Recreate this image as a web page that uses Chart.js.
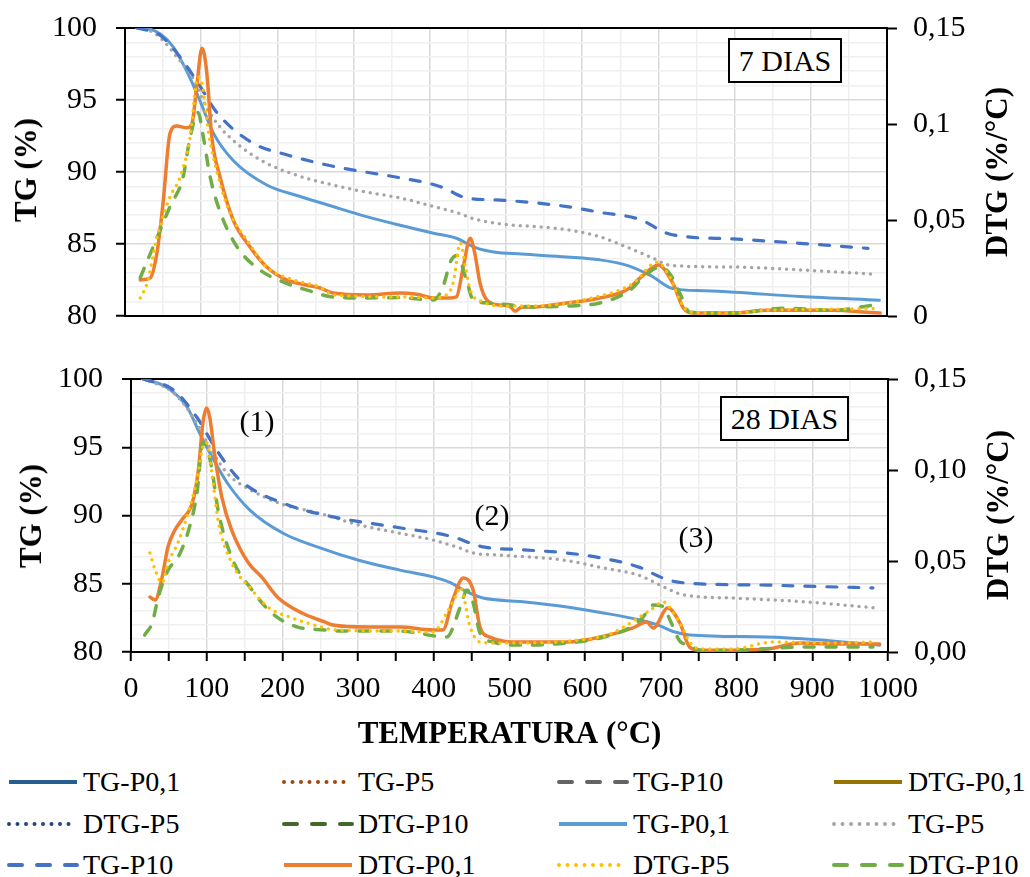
<!DOCTYPE html>
<html>
<head>
<meta charset="utf-8">
<script src="https://cdn.jsdelivr.net/npm/chart.js@4.4.0/dist/chart.umd.min.js"></script>
<style>
body { margin: 0; background: #fff; }
#wrap { position: relative; width: 1030px; height: 877px; font-family: "Liberation Serif", "Times New Roman", serif; color: #000; }
#chart7 { position: absolute; left: 0; top: 0; }
#chart28 { position: absolute; left: 0; top: 340px; }
.tag { position: absolute; border: 2px solid #000; background: #fff; font-size: 30px; text-align: center; box-sizing: border-box; line-height: 41px; }
.note { position: absolute; font-size: 30px; transform: translate(-50%, -50%); }
.ytitle { position: absolute; font-size: 31px; font-weight: bold; white-space: nowrap; transform: translate(-50%, -50%) rotate(-90deg); }
.leg { position: absolute; height: 40px; font-size: 28px; display: flex; align-items: center; white-space: nowrap; transform: translateY(-50%); }
.leg canvas { margin-right: 4px; }
</style>
</head>
<body>
<div id="wrap">
  <canvas id="chart7" width="1030" height="335"></canvas>
  <canvas id="chart28" width="1030" height="420"></canvas>

  <div class="ytitle" style="left:26px; top:170px;">TG (%)</div>
  <div class="ytitle" style="left:997px; top:172px;">DTG (%/°C)</div>
  <div class="ytitle" style="left:31px; top:516px;">TG (%)</div>
  <div class="ytitle" style="left:998px; top:515px;">DTG (%/°C)</div>

  <div class="tag" style="left:728px; top:38px; width:114px; height:45px;">7 DIAS</div>
  <div class="tag" style="left:720px; top:396px; width:129px; height:45px;">28 DIAS</div>

  <div class="note" style="left:257px; top:421px;">(1)</div>
  <div class="note" style="left:492px; top:515px;">(2)</div>
  <div class="note" style="left:696px; top:537px;">(3)</div>

  <div id="legend"></div>
</div>

<script>
const SERIF = '"Liberation Serif", "Times New Roman", serif';

// ---- 7 dias : [temperature, value] ----
const tg01_7 = [[16,100],[30,99.95],[46,99.6],[63,98.7],[81,97.0],[98,95.0],[116,92.7],[142,90.8],[186,89.1],[230,88.3],[273,87.6],[317,86.9],[361,86.3],[405,85.75],[435,85.4],[460,84.75],[484,84.45],[520,84.3],[580,84.1],[623,83.9],[660,83.5],[690,82.8],[719,81.9],[760,81.75],[800,81.65],[886,81.35],[990,81.1]];
const tg5_7 = [[16,100],[40,99.6],[68,98.0],[89,96.5],[107,94.5],[125,93.1],[151,91.8],[186,90.6],[230,89.7],[273,89.1],[317,88.6],[361,88.2],[405,87.6],[440,87.1],[455,86.8],[492,86.4],[540,86.2],[580,86.0],[623,85.5],[658,84.8],[689,84.1],[719,83.5],[798,83.4],[886,83.2],[985,82.9]];
const tg10_7 = [[16,100],[46,99.5],[72,98.0],[98,96.0],[121,94.1],[168,92.0],[212,91.2],[273,90.4],[361,89.6],[400,89.2],[418,88.9],[448,88.2],[492,88.05],[580,87.6],[623,87.2],[676,86.7],[711,85.75],[737,85.5],[798,85.35],[886,85.05],[975,84.7]];
const dtg01_7 = [[20,0.0188],[33,0.0198],[42,0.033],[50,0.059],[59,0.095],[68,0.099],[81,0.098],[88,0.1005],[94,0.119],[101,0.1395],[107,0.128],[114,0.093],[125,0.072],[142,0.050],[164,0.036],[186,0.0255],[212,0.0188],[239,0.016],[256,0.0146],[273,0.012],[317,0.011],[361,0.012],[383,0.0113],[405,0.0094],[427,0.0094],[435,0.010],[444,0.0257],[453,0.0405],[459,0.0328],[466,0.017],[475,0.0083],[492,0.0057],[505,0.005],[512,0.0025],[520,0.0045],[536,0.0047],[580,0.0068],[623,0.0094],[658,0.0135],[676,0.0198],[700,0.0266],[719,0.017],[733,0.004],[746,0.0015],[798,0.0015],[842,0.003],[930,0.003],[973,0.002],[991,0.0015]];
const dtg5_7 = [[20,0.0094],[29,0.017],[42,0.041],[59,0.062],[72,0.072],[85,0.092],[96,0.1245],[102,0.119],[109,0.097],[121,0.0745],[138,0.0536],[160,0.0396],[186,0.0255],[221,0.0188],[256,0.015],[273,0.011],[361,0.0099],[405,0.0094],[422,0.011],[431,0.0177],[440,0.038],[447,0.025],[453,0.0135],[470,0.0073],[492,0.0052],[536,0.0052],[623,0.0104],[667,0.017],[698,0.028],[715,0.0203],[728,0.0083],[741,0.002],[798,0.0015],[842,0.003],[930,0.0035],[987,0.004]];
const dtg10_7 = [[20,0.020],[37,0.036],[59,0.057],[76,0.072],[85,0.092],[96,0.106],[102,0.095],[112,0.072],[125,0.054],[147,0.036],[177,0.024],[212,0.017],[239,0.0135],[273,0.0099],[317,0.0094],[361,0.0096],[405,0.0083],[417,0.015],[428,0.029],[436,0.0315],[448,0.0188],[457,0.0083],[475,0.0068],[501,0.006],[536,0.0047],[580,0.0052],[623,0.0068],[663,0.0135],[680,0.0203],[702,0.0255],[715,0.022],[728,0.012],[741,0.002],[798,0.0015],[864,0.004],[930,0.003],[982,0.0057]];

// ---- 28 dias ----
const tg01_28 = [[16,100],[47,99.4],[74,97.95],[91,96.0],[104,94.6],[127,92.4],[157,90.4],[201,88.7],[246,87.7],[302,86.7],[355,86.0],[399,85.5],[421,85.1],[444,84.4],[465,83.95],[514,83.7],[576,83.3],[620,82.9],[672,82.35],[695,82.0],[716,81.5],[738,81.25],[840,81.1],[906,80.9],[989,80.5]];
const tg5_28 = [[16,100],[56,99.0],[82,97.2],[104,95.0],[127,93.1],[157,91.9],[201,90.8],[246,90.2],[302,89.3],[355,88.7],[399,88.2],[435,87.6],[452,87.25],[487,87.1],[576,86.7],[620,86.2],[672,85.6],[699,84.9],[729,84.2],[795,83.95],[884,83.7],[989,83.2]];
const tg10_28 = [[16,100],[56,99.2],[87,97.2],[113,94.8],[144,92.6],[201,90.9],[267,89.9],[355,89.1],[421,88.5],[465,87.7],[514,87.5],[576,87.25],[620,86.9],[672,86.2],[695,85.6],[708,85.3],[734,85.05],[840,84.9],[906,84.8],[980,84.7]];
const dtg01_28 = [[25,0.0302],[32,0.0286],[41,0.041],[49,0.058],[58,0.067],[67,0.0725],[81,0.082],[89,0.100],[95,0.126],[100,0.134],[104,0.129],[111,0.107],[120,0.085],[133,0.067],[155,0.049],[173,0.041],[194,0.030],[226,0.0214],[256,0.0165],[267,0.0148],[312,0.0137],[355,0.0137],[399,0.0121],[412,0.0121],[425,0.0286],[439,0.0407],[452,0.034],[461,0.0137],[474,0.0082],[514,0.0055],[576,0.0055],[620,0.0082],[663,0.0132],[681,0.0165],[690,0.0132],[709,0.0242],[725,0.016],[738,0.0027],[752,0.001],[795,0.001],[840,0.0016],[884,0.0049],[928,0.0044],[989,0.0044]];
const dtg5_28 = [[25,0.0544],[32,0.045],[41,0.038],[49,0.049],[62,0.060],[75,0.076],[87,0.0945],[95,0.113],[100,0.115],[107,0.098],[115,0.0725],[133,0.049],[160,0.034],[181,0.0247],[213,0.0187],[256,0.0132],[267,0.0121],[355,0.0115],[399,0.0110],[417,0.0214],[431,0.0324],[435,0.0357],[448,0.0137],[461,0.0055],[487,0.0049],[620,0.0082],[686,0.023],[703,0.0275],[716,0.022],[728,0.0137],[738,0.0055],[752,0.0016],[795,0.0016],[848,0.0055],[928,0.0049],[980,0.0055]];
const dtg10_28 = [[18,0.0093],[28,0.016],[36,0.030],[49,0.045],[62,0.052],[75,0.0654],[87,0.087],[95,0.115],[100,0.113],[107,0.100],[115,0.078],[133,0.052],[160,0.034],[186,0.0214],[220,0.0137],[256,0.0121],[267,0.0115],[355,0.0115],[417,0.0082],[435,0.0247],[444,0.034],[452,0.027],[461,0.0104],[478,0.0055],[514,0.0038],[576,0.0049],[620,0.0077],[663,0.0143],[676,0.019],[690,0.0258],[703,0.025],[712,0.0176],[725,0.006],[736,0.004],[752,0.001],[795,0.001],[884,0.0027],[928,0.0027],[980,0.0027]];

// tick labels of the DTG axis (bottom to top)
const dtgTicks7 = ['0', '0,05', '0,1', '0,15'];
const dtgTicks28 = ['0,00', '0,05', '0,10', '0,15'];

// legend texts (12 entries, 3 rows of 4)
const legendNames = ['TG-P0,1', 'TG-P5', 'TG-P10', 'DTG-P0,1', 'DTG-P5', 'DTG-P10',
                     'TG-P0,1', 'TG-P5', 'TG-P10', 'DTG-P0,1', 'DTG-P5', 'DTG-P10'];
const legendColors = ['#255E91', '#9E480E', '#636363', '#997300', '#264478', '#43682B',
                      '#5B9BD5', '#A5A5A5', '#4472C4', '#ED7D31', '#FFC000', '#70AD47'];
const legendStyles = ['solid', 'dot', 'dash', 'solid', 'dot', 'dash',
                      'solid', 'dot', 'dash', 'solid', 'dot', 'dash'];

const toXY = arr => arr.map(p => ({ x: p[0], y: p[1] }));

function line(label, data, color, style, axis, width, order) {
    const ds = {
        label: label,
        data: toXY(data),
        borderColor: color,
        backgroundColor: color,
        borderWidth: width,
        pointRadius: 0,
        fill: false,
        cubicInterpolationMode: 'monotone',
        yAxisID: axis,
        order: order,
        borderCapStyle: 'round',
        borderJoinStyle: 'round'
    };
    if (style === 'dot') ds.borderDash = [0, 7];
    if (style === 'dash') ds.borderDash = [10, 12];
    return ds;
}

function buildDatasets(tg01, tg5, tg10, dtg01, dtg5, dtg10) {
    return [
        line('TG-P0,1', tg01, '#5B9BD5', 'solid', 'y', 3, 5),
        line('TG-P5', tg5, '#A5A5A5', 'dot', 'y', 3.5, 4),
        line('TG-P10', tg10, '#4472C4', 'dash', 'y', 3.2, 3),
        line('DTG-P0,1', dtg01, '#ED7D31', 'solid', 'y2', 3.5, 2),
        line('DTG-P5', dtg5, '#FFC000', 'dot', 'y2', 3.5, 0),
        line('DTG-P10', dtg10, '#70AD47', 'dash', 'y2', 3.5, 1)
    ];
}

// keep the label overflow of the y axes from shrinking the plot area
function fixWidth(w) {
    return s => {
        s.width = w;
        s.paddingTop = 0;
        s.paddingBottom = 0;
    };
}

function buildOptions(bottom, dtgLabels) {
    const tickFont = { family: SERIF, size: 30 };
    return {
        responsive: false,
        animation: false,
        plugins: { legend: { display: false }, tooltip: { enabled: false } },
        layout: { padding: { top: bottom ? 39 : 28, left: 0, right: 0, bottom: 0 } },
        scales: {
            x: {
                type: 'linear', min: 0, max: 1000,
                ticks: {
                    stepSize: 50, display: bottom, autoSkip: false, maxRotation: 0,
                    font: tickFont, color: '#000', padding: 10,
                    callback: v => (v % 100 === 0 ? String(v) : '')
                },
                grid: {
                    drawTicks: bottom, tickLength: 9, tickWidth: 2, tickColor: '#000',
                    color: c => {
                        const v = c.tick ? c.tick.value : 0;
                        if (v === 0 || v === 1000) return 'rgba(0,0,0,0)';
                        return v % 100 === 0 ? '#d9d9d9' : '#f0f0f0';
                    },
                    lineWidth: 1.5
                },
                border: { color: '#000', width: 2 },
                title: {
                    display: bottom, text: 'TEMPERATURA (°C)', color: '#000',
                    font: { family: SERIF, size: 31, weight: 'bold' },
                    padding: { top: 0, bottom: 6 }
                },
                afterFit: s => { s.height = bottom ? 108 : 19; }
            },
            y: {
                position: 'left', min: 80, max: 100,
                ticks: {
                    stepSize: 1, autoSkip: false, font: tickFont, color: '#000', padding: 19,
                    callback: v => (v % 5 === 0 ? String(v) : '')
                },
                grid: {
                    tickLength: 9, tickWidth: 2,
                    tickColor: c => (c.tick && c.tick.value % 5 === 0 ? '#000' : 'rgba(0,0,0,0)'),
                    color: c => {
                        const v = c.tick ? c.tick.value : 0;
                        if (v === 100) return '#000';
                        if (v === 80) return 'rgba(0,0,0,0)';
                        return v % 5 === 0 ? '#d9d9d9' : '#f0f0f0';
                    },
                    lineWidth: c => (c.tick && c.tick.value === 100 ? 2 : 1.5)
                },
                border: { color: '#000', width: 2 },
                afterFit: fixWidth(bottom ? 131 : 125)
            },
            y2: {
                position: 'right', min: 0, max: 0.15,
                ticks: {
                    stepSize: 0.05, autoSkip: false, font: tickFont, color: '#000', padding: 16,
                    callback: (v, i) => dtgLabels[i]
                },
                grid: { drawOnChartArea: false, tickLength: 10, tickWidth: 2, tickColor: '#000' },
                border: { color: '#000', width: 2 },
                afterFit: fixWidth(bottom ? 142 : 143)
            }
        }
    };
}

new Chart(document.querySelector('#chart7'), {
    type: 'line',
    data: { datasets: buildDatasets(tg01_7, tg5_7, tg10_7, dtg01_7, dtg5_7, dtg10_7) },
    options: buildOptions(false, dtgTicks7)
});

new Chart(document.querySelector('#chart28'), {
    type: 'line',
    data: { datasets: buildDatasets(tg01_28, tg5_28, tg10_28, dtg01_28, dtg5_28, dtg10_28) },
    options: buildOptions(true, dtgTicks28)
});

// Legend built as html, line samples drawn on small canvases
const legend = document.querySelector('#legend');
const rowY = [782, 824, 865];
const colX = [7, 282, 557, 832];
legendNames.forEach((name, i) => {
    const item = document.createElement('div');
    item.className = 'leg';
    item.style.left = colX[i % 4] + 'px';
    item.style.top = rowY[Math.floor(i / 4)] + 'px';

    const sample = document.createElement('canvas');
    sample.width = 72;
    sample.height = 12;
    const ctx = sample.getContext('2d');
    ctx.strokeStyle = legendColors[i];
    ctx.lineWidth = 4;
    if (legendStyles[i] === 'dot') {
        ctx.lineCap = 'round';
        ctx.setLineDash([0, 8.5]);
    } else if (legendStyles[i] === 'dash') {
        ctx.lineCap = 'round';
        ctx.setLineDash([13, 15]);
    }
    ctx.beginPath();
    ctx.moveTo(2, 6);
    ctx.lineTo(70, 6);
    ctx.stroke();

    const text = document.createElement('span');
    text.textContent = name;

    item.appendChild(sample);
    item.appendChild(text);
    legend.appendChild(item);
});
</script>
</body>
</html>
